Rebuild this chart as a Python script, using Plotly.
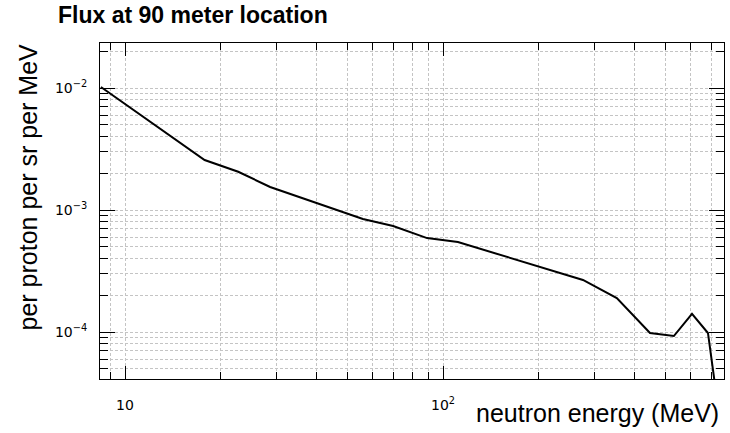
import numpy as np
import plotly.graph_objects as go

# Data
energy = [8.4, 17.8, 22.7, 28.6, 56.0, 69.7, 89.1, 111.4, 275.5, 352.0, 447.6, 532.0, 606.7, 681.0, 740.0]
flux = [0.0102, 2.57e-3, 2.06e-3, 1.545e-3, 8.43e-4, 7.39e-4, 5.89e-4, 5.47e-4, 2.67e-4, 1.90e-4,
        9.82e-5, 9.27e-5, 1.41e-4, 9.82e-5, 2.0e-5]

x_major = [10, 100]
x_major_text = ["10", "10<sup>2</sup>"]
x_minor = [9, 20, 30, 40, 50, 60, 70, 80, 90, 200, 300, 400, 500, 600, 700]
y_major = [1e-4, 1e-3, 1e-2]
y_major_text = ["10<sup>\u22124</sup>", "10<sup>\u22123</sup>", "10<sup>\u22122</sup>"]
y_minor = [5e-5, 6e-5, 7e-5, 8e-5, 9e-5, 2e-4, 3e-4, 4e-4, 5e-4, 6e-4, 7e-4, 8e-4, 9e-4,
           2e-3, 3e-3, 4e-3, 5e-3, 6e-3, 7e-3, 8e-3, 9e-3, 2e-2]

W, H = 730, 433
L, R, T, B = 100, 6, 43, 54

fig = go.Figure()
fig.add_trace(go.Scatter(x=energy, y=flux, mode="lines",
                         line=dict(color="black", width=2), showlegend=False))

grid = dict(gridcolor="#c4c4c4", griddash="3px,2px", gridwidth=1)
tickfont = dict(family="DejaVu Sans", size=14, color="black")

fig.update_xaxes(type="log", range=[0.9214, 2.8836],
                 tickmode="array", tickvals=x_major, ticktext=x_major_text,
                 ticks="inside", ticklen=13, tickcolor="black", tickwidth=1,
                 showline=True, linecolor="black", linewidth=1, mirror="allticks",
                 showgrid=True, **grid, tickfont=tickfont, ticklabelstandoff=13,
                 zeroline=False,
                 minor=dict(tickmode="array", tickvals=x_minor, ticks="inside", ticklen=7,
                            tickcolor="black", showgrid=True, **grid))
fig.update_yaxes(type="log", range=[-4.385, -1.631],
                 tickmode="array", tickvals=y_major, ticktext=y_major_text,
                 ticks="inside", ticklen=15, tickcolor="black", tickwidth=1,
                 showline=True, linecolor="black", linewidth=1, mirror="allticks",
                 showgrid=True, **grid, tickfont=tickfont, ticklabelstandoff=9,
                 zeroline=False,
                 minor=dict(tickmode="array", tickvals=y_minor, ticks="inside", ticklen=8,
                            tickcolor="black", showgrid=True, **grid))

pw, ph = W - L - R, H - T - B
fig.add_annotation(text="per proton per sr per MeV", textangle=-90,
                   xref="paper", yref="paper", x=(27 - L) / pw, y=(H - B - 187.5) / ph,
                   xanchor="center", yanchor="middle", showarrow=False,
                   font=dict(family="Liberation Sans", size=25, color="black"))
fig.add_annotation(text="neutron energy (MeV)",
                   xref="paper", yref="paper", x=(721 - L) / pw, y=(H - B - 413) / ph,
                   xanchor="right", yanchor="middle", showarrow=False,
                   font=dict(family="Liberation Sans", size=25, color="black"))

fig.update_layout(
    width=W, height=H, margin=dict(l=L, r=R, t=T, b=B, autoexpand=False),
    paper_bgcolor="white", plot_bgcolor="white",
    title=dict(text="<b>Flux at 90 meter location</b>", xref="container", yref="container",
               x=58 / W, xanchor="left", y=1 - 15 / H, yanchor="middle",
               font=dict(family="Liberation Sans", size=23, color="black")),
)

fig.write_html("out.html")
